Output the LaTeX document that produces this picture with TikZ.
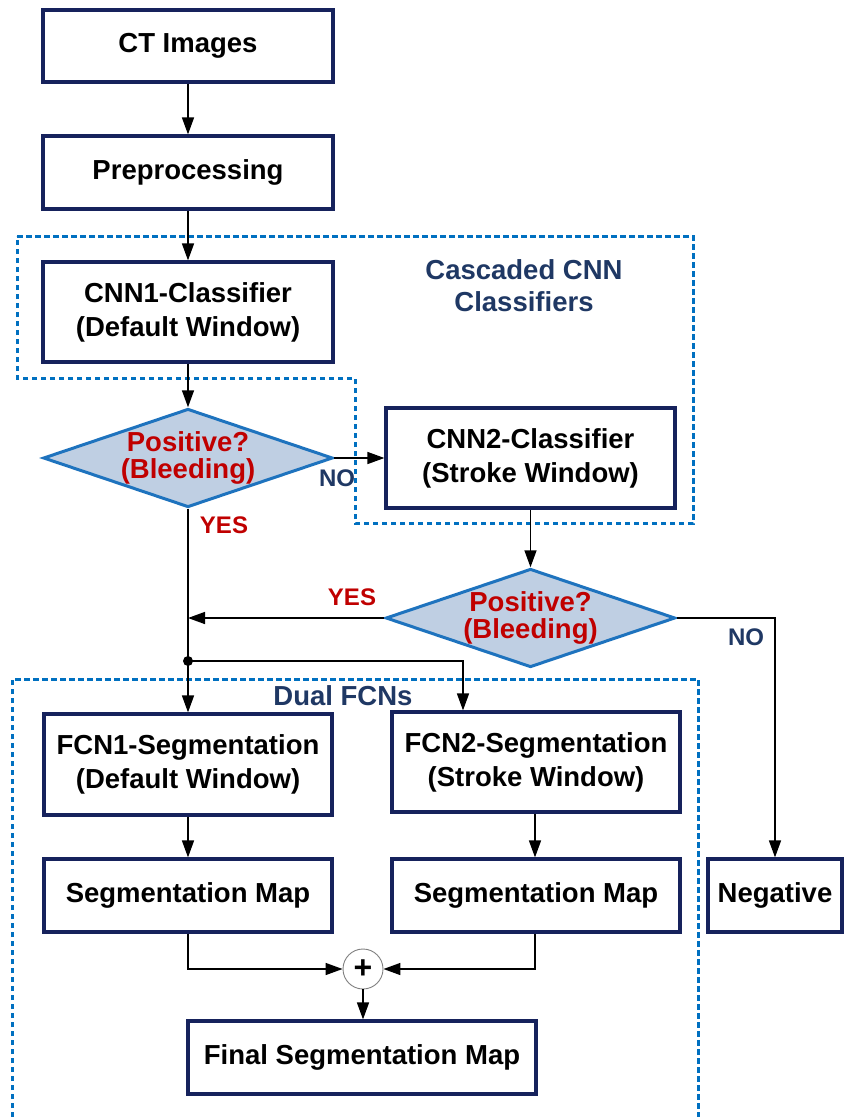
\documentclass[tikz,border=0pt]{standalone}
\usepackage{fontspec}
\setmainfont{Liberation Sans}
\usetikzlibrary{arrows.meta,shapes.geometric,calc}
\definecolor{navy}{RGB}{22,34,92}
\definecolor{dashblue}{RGB}{0,112,192}
\definecolor{dfill}{RGB}{191,207,227}
\definecolor{dline}{RGB}{30,115,190}
\definecolor{redtxt}{RGB}{192,0,0}
\definecolor{labblue}{RGB}{31,56,100}
\tikzset{
  x=1pt, y=-1pt,
  box/.style={draw=navy, line width=3.2pt, fill=white, align=center, inner sep=0pt,
    font=\fontsize{27.5}{34}\selectfont\bfseries},
  dec/.style={shape=diamond, draw=dline, fill=dfill, line width=3pt, aspect=2.94,
    inner sep=0pt, minimum width=288pt, minimum height=98pt, align=center,
    text=redtxt, font=\fontsize{27.5}{27}\selectfont\bfseries},
  arr/.style={draw=black, line width=1.5pt, -{Triangle[length=17pt,width=12pt]}},
  conn/.style={draw=black, line width=1.5pt},
  region/.style={draw=dashblue, line width=3pt, dash pattern=on 5.5pt off 3.5pt},
  grouplabel/.style={text=labblue, align=center, font=\fontsize{27.5}{32}\selectfont\bfseries},
  yeslabel/.style={text=redtxt, font=\fontsize{24}{24}\selectfont\bfseries},
  nolabel/.style={text=labblue, font=\fontsize{24}{24}\selectfont\bfseries}
}
\begin{document}
\begin{tikzpicture}
\useasboundingbox (0,0) rectangle (845,1117);
\fill[white] (0,0) rectangle (845,1117);
% dashed regions
\draw[region] (17,236) -- (693,236) -- (693,523) -- (355,523) -- (355,378) -- (17,378) -- cycle;
\draw[region] (12,1117) -- (12,679) -- (698,679) -- (698,1117);
% nodes
\node[box, minimum width=290pt, minimum height=72pt] (ct) at (188,46) {CT Images};
\node[box, minimum width=290pt, minimum height=73pt] (pre) at (188,172.5) {Preprocessing};
\node[box, minimum width=290pt, minimum height=100pt] (cnn1) at (188,312) {CNN1-Classifier\\(Default Window)};
\node[dec] (d1) at (188,458) {Positive?\\(Bleeding)};
\node[box, minimum width=289pt, minimum height=100pt] (cnn2) at (530.5,458) {CNN2-Classifier\\(Stroke Window)};
\node[dec] (d2) at (530.5,618) {Positive?\\(Bleeding)};
\node[box, minimum width=288pt, minimum height=101pt] (fcn1) at (188,764.5) {FCN1-Segmentation\\(Default Window)};
\node[box, minimum width=288pt, minimum height=100pt] (fcn2) at (536,762) {FCN2-Segmentation\\(Stroke Window)};
\node[box, minimum width=288pt, minimum height=73pt] (seg1) at (188,895.5) {Segmentation Map};
\node[box, minimum width=288pt, minimum height=73pt] (seg2) at (536,895.5) {Segmentation Map};
\node[box, minimum width=134pt, minimum height=73pt] (neg) at (775,895.5) {Negative};
\node[circle, draw=gray, line width=0.9pt, minimum size=40pt, inner sep=0pt,
  font=\fontsize{32}{32}\selectfont\bfseries] (plus) at (363,969) {+};
\node[box, minimum width=348pt, minimum height=73pt] (final) at (362,1057.5) {Final Segmentation Map};
% group labels
\node[grouplabel] (lcas) at (524,286) {Cascaded CNN\\Classifiers};
\node[grouplabel] (ldual) at (343,696) {Dual FCNs};
% connectors
\draw[arr] (ct) -- (pre);
\draw[arr] (pre) -- (cnn1);
\draw[arr] (cnn1) -- (d1);
\draw[arr] (d1.east) -- (cnn2.west);
\draw[arr] (cnn2) -- (d2);
\coordinate (jyes) at (d1.south |- d2.west);
\coordinate (dot) at (188,661);
\draw[conn] (d1.south) -- (dot);
\draw[arr] (dot) -- (fcn1.north);
\draw[arr] (d2.west) -- (jyes);
\fill (dot) circle (5pt);
\coordinate (f2in) at ($(fcn2.north)+(-73,0)$);
\draw[arr] (dot) -| (f2in);
\draw[arr] (d2.east) -| (neg.north);
\draw[arr] (fcn1) -- (seg1);
\draw[arr] ($(fcn2.south)+(-1,0)$) -- ($(seg2.north)+(-1,0)$);
\draw[arr] (seg1.south) |- (plus.west);
\draw[arr] ($(seg2.south)+(-1,0)$) |- (plus.east);
\draw[arr] (plus.south) -- (final.north -| plus.south);
% branch labels
\node[nolabel] (no1) at (337,478) {NO};
\node[yeslabel] (yes1) at (224,525) {YES};
\node[yeslabel] (yes2) at (352,597) {YES};
\node[nolabel] (no2) at (746,637) {NO};
\end{tikzpicture}
\end{document}
